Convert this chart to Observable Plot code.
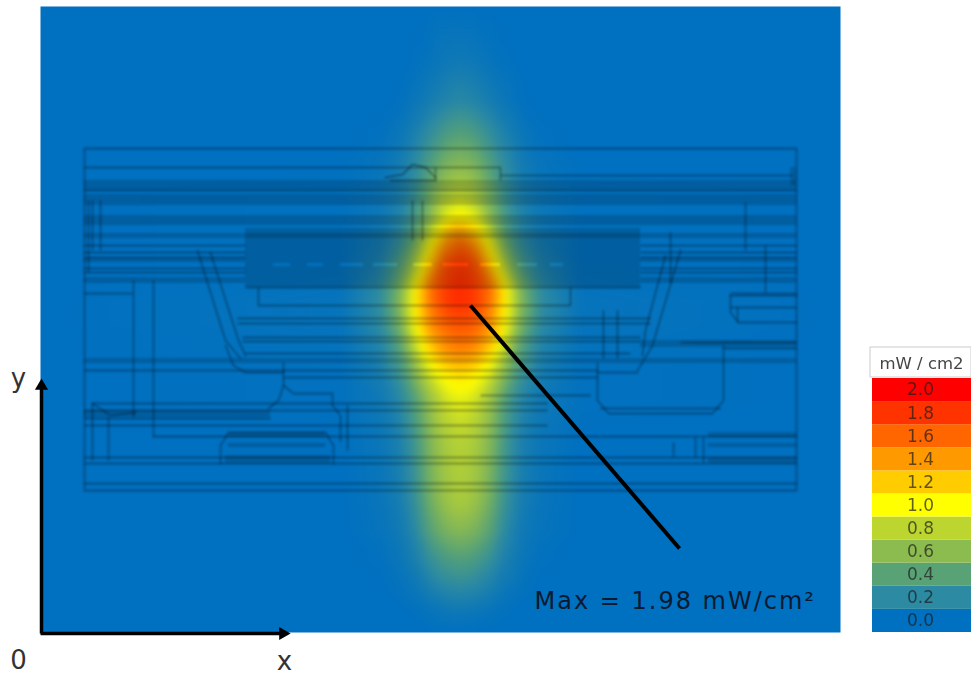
<!DOCTYPE html>
<html><head><meta charset="utf-8">
<script src="https://cdn.jsdelivr.net/npm/d3@7"></script>
<script src="https://cdn.jsdelivr.net/npm/@observablehq/plot@0.6"></script>
<style>
html,body{margin:0;padding:0;background:#fff}
svg{display:block}
.cad{filter:blur(.9px)}
.soft{filter:blur(.4px)}
.maxnote{letter-spacing:2px}
</style></head><body>
<div id="chart"></div>
<script>
// Field samples: power density (mW/cm2) on a grid
const heatX = [0,300,340,360,375,390,405,420,435,450,465,480,500,540,800];
const heatY = [626,572,532,502,472,442,417,392,372,347,332,307,282,257,232,192,132,102,72,42,20,0];
const heatRows = [
 [0,0,0,0,0,0,0,0,0,0,0,0,0,0,0],
 [0,0,0,0,.01,.03,.06,.07,.06,.03,.01,0,0,0,0],
 [0,0,0,.01,.05,.1,.15,.18,.15,.1,.05,.01,0,0,0],
 [0,0,.01,.05,.12,.22,.32,.37,.32,.22,.12,.05,.01,0,0],
 [0,0,.03,.09,.2,.35,.5,.56,.5,.35,.2,.09,.03,0,0],
 [0,.01,.05,.12,.25,.48,.68,.76,.68,.48,.25,.12,.05,.01,0],
 [0,.01,.06,.16,.32,.58,.9,1.02,.9,.58,.32,.16,.06,.01,0],
 [0,.01,.09,.24,.48,.95,1.4,1.58,1.36,.92,.45,.22,.09,.01,0],
 [0,.01,.13,.35,.68,1.22,1.68,1.78,1.66,1.18,.65,.32,.13,.01,0],
 [0,.02,.2,.52,1,1.56,1.76,1.84,1.76,1.56,1.02,.52,.2,.02,0],
 [0,.03,.22,.58,1.05,1.55,1.78,1.84,1.78,1.55,1.05,.58,.22,.03,0],
 [0,.03,.2,.52,1,1.45,1.62,1.68,1.62,1.42,1,.52,.2,.03,0],
 [0,.02,.15,.38,.78,1.18,1.42,1.5,1.42,1.18,.75,.38,.15,.02,0],
 [0,.01,.1,.27,.56,.86,1.04,1.12,1.04,.86,.54,.27,.1,.01,0],
 [0,.01,.07,.18,.38,.65,.85,.92,.85,.65,.36,.18,.07,.01,0],
 [0,0,.05,.13,.3,.56,.72,.78,.72,.56,.3,.13,.05,0,0],
 [0,0,.04,.11,.25,.5,.66,.73,.66,.5,.25,.11,.04,0,0],
 [0,0,.03,.08,.19,.4,.53,.58,.53,.4,.19,.08,.03,0,0],
 [0,0,.01,.05,.12,.24,.33,.37,.33,.24,.12,.05,.01,0,0],
 [0,0,0,.02,.05,.11,.16,.18,.16,.11,.05,.02,0,0,0],
 [0,0,0,0,.01,.03,.05,.06,.05,.03,.01,0,0,0,0],
 [0,0,0,0,0,0,0,0,0,0,0,0,0,0,0]
];

// Colour key
const legendValues = [0,.2,.4,.6,.8,1,1.2,1.4,1.6,1.8,2];
const legendColors = ["#0070c0","#2c8aa2","#58a276","#8cbb50","#bcd52f","#ffff00","#ffcc00","#ff9900","#ff6600","#ff3300","#ff0000"];
const legendUnit = "mW / cm2";
const maxLabel = "Max = 1.98 mW/cm²";
const axisLabels = [["y",-22,254],["0",-22,-28],["x",244,-29]];

// Outline drawing behind the field: [x1, x2, y1, y2] shaded bands
const cadBands = [
 [44,756,442,452],[44,756,427,438],[44,756,407,417],[44,756,394,399],
 [44,205,349,355],[600,756,349,355],[44,205,370,374],[600,756,370,374],
 [205,600,369,404],[205,600,345,366],
 [205,233,366,369],[250,267,366,369],[283,300,366,369],[323,333,366,369],[357,373,366,369],
 [392,403,366,369],[428,440,366,369],[460,477,366,369],[497,510,366,369],[523,600,366,369],
 [44,756,269,274],[600,756,285,292],[44,230,215,222],
 [188,285,195,200],[188,285,185,189],[185,290,169,177],
 [668,756,195,200],[668,756,185,189],[668,756,169,175],
 [750,756,447,465]
];
// Horizontal outlines: [y, x1, x2]
const cadHoriz = [
 [484,44,756],[465,44,460],[457,460,752],[442,44,756],
 [387,44,205],[375,44,205],[364,44,205],[387,600,756],[375,600,756],[364,600,756],
 [380,44,205],[380,600,756],[360,44,205],[360,600,756],
 [339,44,92],[339,690,756],
 [327,218,530],[345,205,600],
 [314,197,610],[309,197,610],
 [295,202,600],[291,202,600],[279,205,590],
 [262,44,557],[255,243,557],
 [237,440,550],[229,52,507],[222,44,507],[214,44,230],[207,44,507],[196,113,756],
 [175,44,756],[169,44,756],[149,44,756],[142,44,756],
 [290,640,756],[284,683,756],[224,560,680],[325,690,756]
];
// Vertical outlines: [x, y1, y2]
const cadVert = [
 [44,142,484],[756,142,484],[93,215,352],[113,195,352],[52,172,229],[68,172,215],
 [307,182,227],[372,392,432],[382,392,432],[460,452,465],[395,452,465],
 [530,327,345],[218,327,345],[563,274,322],[577,274,322],[663,170,195],
 [52,382,432],[60,382,432],[705,382,430],[697,310,325],[633,175,190],[655,175,195],
 [48,360,432],[630,350,400],[725,340,387]
];
// Curved and slanted outlines: flat x,y lists
const cadPaths = [
 [157,382,185,292,200,274],
 [170,380,198,292,205,277],
 [185,287,193,267,205,260,243,260],
 [243,269,243,247,253,239,292,239,292,227,300,217,300,192],
 [243,247,238,232,228,224],
 [52,229,70,217,95,220],
 [180,169,180,187,188,200,285,200,293,187,293,169],
 [557,269,557,232,568,219,672,219,683,232,683,287],
 [640,382,612,287,597,262],
 [625,377,605,302,602,277],
 [557,260,597,260],
 [690,337,756,337],
 [690,337,690,320,698,310,756,310],
 [345,455,362,458,372,468,385,465,395,455],
 [350,452,395,452]
];

// Annotation leader and the two axis arrows: [x1, y1, x2, y2]
const leader = [[430,327,639,84]];
const axesArrows = [[1,-1,1,246],[0,-1,242,-1]];

const points = heatY.flatMap((y,i) => heatX.map((x,j) => ({x, y, v: heatRows[i][j]})));
const bandH = 254 / legendValues.length;
const legendCells = legendValues.map((v,i) => ({v, y1:i*bandH, y2:(i+1)*bandH}));
const paths = cadPaths.flatMap((p,k) => d3.range(0,p.length,2).map(i => ({x:p[i],y:p[i+1],k})));
const cadInk = {stroke:"#000", strokeOpacity:.3, strokeWidth:1.8, className:"cad"};

const chart = Plot.plot({
  width:971, height:675,
  marginLeft:40, marginRight:131, marginTop:6, marginBottom:43,
  x:{domain:[0,800], axis:null},
  y:{domain:[0,626], axis:null},
  color:{type:"linear", domain:legendValues, range:legendColors, clamp:true, interpolate:"rgb"},
  style:{fontFamily:"'DejaVu Sans',sans-serif", background:"#fff"},
  marks:[
    Plot.raster(points,{x:"x",y:"y",fill:"v",interpolate:"barycentric",x1:0,x2:800,y1:0,y2:626,pixelSize:1,blur:4}),
    Plot.rect(cadBands,{x1:"0",x2:"1",y1:"2",y2:"3",fill:"#000",fillOpacity:.16,className:"cad"}),
    Plot.link(cadHoriz,{x1:"1",x2:"2",y1:"0",y2:"0",...cadInk}),
    Plot.link(cadVert,{x1:"0",x2:"0",y1:"1",y2:"2",...cadInk}),
    Plot.line(paths,{x:"x",y:"y",z:"k",...cadInk}),
    Plot.link(leader,{x1:"0",y1:"1",x2:"2",y2:"3",stroke:"#000",strokeWidth:4}),
    Plot.link(axesArrows,{x1:"0",y1:"1",x2:"2",y2:"3",stroke:"#000",strokeWidth:3.5}),
    Plot.dot([[1,246.5]],{x:"0",y:"1",symbol:"triangle",r:4.9,fill:"#000"}),
    Plot.dot([[242.5,-1]],{x:"0",y:"1",symbol:"triangle",r:4.9,fill:"#000",rotate:90}),
    Plot.text([maxLabel],{x:()=>494,y:()=>31,text:d=>d,textAnchor:"start",fontSize:24,fill:"#0a1a30",className:"maxnote"}),
    Plot.text(axisLabels,{x:"1",y:"2",text:"0",fontSize:26,fill:"#333"}),
    Plot.rect(legendCells,{x1:()=>832,x2:()=>931,y1:"y1",y2:"y2",fill:"v"}),
    Plot.rect([0],{x1:()=>830,x2:()=>931,y1:()=>255,y2:()=>285,fill:"#fff",stroke:"#ccc"}),
    Plot.text([legendUnit],{x:()=>881,y:()=>269,text:d=>d,fontSize:16.5,fill:"#444",className:"soft"}),
    Plot.text(legendCells,{x:()=>880,y:d=>(d.y1+d.y2)/2,text:d=>d.v.toFixed(1),fontSize:17,fill:"#1c1c1c",fillOpacity:.7,className:"soft"})
  ]
});
document.getElementById("chart").append(chart);
</script>
</body></html>
